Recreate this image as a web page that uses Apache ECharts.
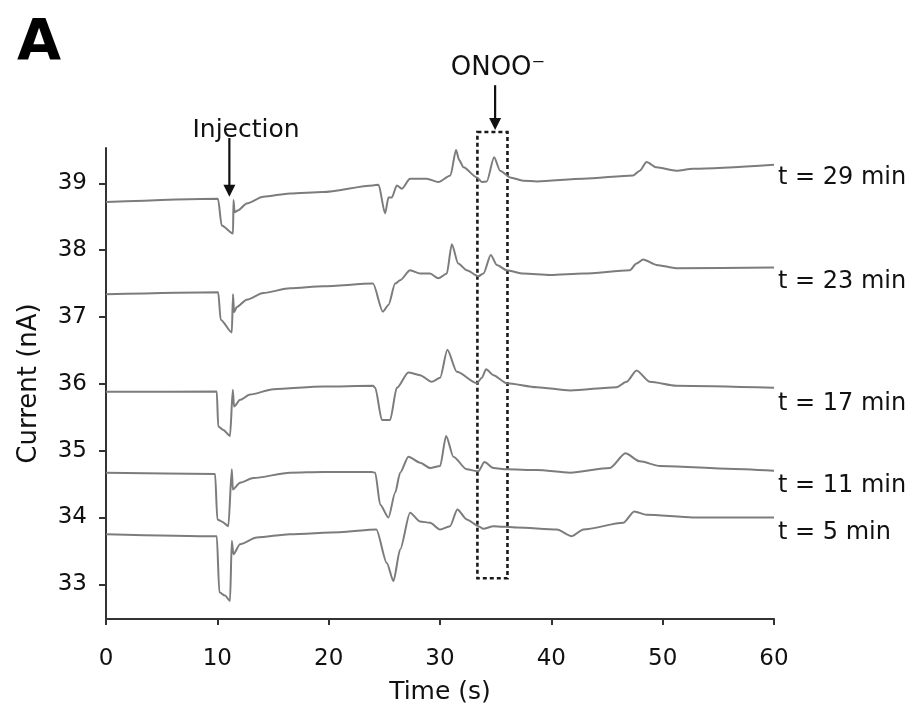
<!DOCTYPE html>
<html>
<head>
<meta charset="utf-8">
<script src="https://cdn.jsdelivr.net/npm/echarts@6/dist/echarts.min.js"></script>
<style>html,body{margin:0;padding:0;background:#fff;}#c{width:914px;height:717px;}</style>
</head>
<body>
<div id="c"></div>
<script>
// ---- data (time s, current nA) ----
const trace29 = [[0,38.72],[10.06,38.77],[10.39,38.37],[11.41,38.25],[11.45,38.75],[11.55,38.57],[11.89,38.6],[12.64,38.7],[14.13,38.8],[16.52,38.85],[19.5,38.87],[23.98,38.97],[24.48,38.98],[25.07,38.55],[25.37,38.79],[25.67,38.79],[26.12,38.97],[26.57,38.92],[27.31,39.07],[28.81,39.07],[29.85,39.02],[30.94,39.12],[31.44,39.5],[31.72,39.35],[32.11,39.24],[33.31,39.09],[33.76,39.02],[34.2,39.03],[34.86,39.39],[35.4,39.19],[36.3,39.09],[37.47,39.04],[38.7,39.03],[42.88,39.07],[47.35,39.12],[47.95,39.19],[48.55,39.32],[49.44,39.24],[51.23,39.19],[52.72,39.22],[60,39.28]];
const trace23 = [[0,37.34],[10.08,37.37],[10.3,36.96],[11.3,36.77],[11.41,37.34],[11.5,37.07],[11.75,37.15],[12.64,37.26],[14.13,37.36],[16.52,37.43],[19.5,37.46],[23.98,37.5],[24.87,37.08],[25.37,37.18],[25.97,37.5],[26.42,37.55],[27.31,37.7],[28.21,37.65],[29.11,37.65],[29.85,37.58],[30.61,37.65],[31.06,38.09],[31.64,37.8],[32.4,37.7],[33.45,37.61],[33.9,37.65],[34.56,37.93],[35.1,37.78],[36.0,37.7],[37.5,37.65],[39.89,37.63],[42.88,37.65],[47.05,37.7],[47.65,37.8],[48.25,37.86],[49.44,37.78],[51.23,37.73],[60,37.74]];
const trace17 = [[0,35.88],[9.95,35.885],[10.08,35.36],[10.54,35.31],[11.14,35.22],[11.39,35.91],[11.5,35.66],[12.04,35.76],[12.94,35.84],[15.03,35.92],[19.5,35.96],[23.98,35.97],[24.18,35.94],[24.78,35.46],[25.52,35.46],[26.12,35.94],[27.16,36.17],[28.21,36.13],[29.25,36.03],[30.01,36.09],[30.66,36.51],[31.51,36.18],[33.31,36.01],[33.76,36.09],[34.14,36.22],[34.8,36.13],[36.0,36.01],[38.7,35.95],[41.68,35.9],[45.86,35.95],[46.76,36.03],[47.65,36.2],[48.85,36.03],[51.23,35.97],[60,35.94]];
const trace11 = [[0,34.67],[9.8,34.65],[10.0,33.97],[10.39,33.94],[10.99,33.87],[11.3,34.72],[11.39,34.42],[12.04,34.52],[13.24,34.59],[16.52,34.67],[19.5,34.68],[23.88,34.68],[24.18,34.67],[24.63,34.19],[25.37,34.0],[25.97,34.37],[26.42,34.67],[27.16,34.91],[28.21,34.82],[29.11,34.74],[30.01,34.77],[30.55,35.22],[31.2,34.91],[32.4,34.72],[33.45,34.69],[33.99,34.83],[34.8,34.74],[36.0,34.72],[38.7,34.71],[41.68,34.67],[45.26,34.74],[46.66,34.96],[47.95,34.84],[49.74,34.77],[55.8,34.73],[60,34.7]];
const trace5 = [[0,33.75],[9.95,33.72],[10.18,32.88],[10.69,32.83],[11.14,32.75],[11.3,33.65],[11.44,33.45],[12.04,33.6],[13.54,33.7],[16.52,33.75],[20.99,33.78],[24.28,33.82],[25.22,33.32],[25.82,33.05],[26.42,33.52],[27.31,34.07],[28.21,33.94],[29.11,33.92],[30.01,33.82],[30.9,33.87],[31.56,34.12],[32.4,33.97],[33.45,33.87],[33.9,33.83],[34.8,33.87],[36.91,33.85],[40.49,33.82],[41.84,33.72],[42.88,33.82],[46.46,33.92],[47.45,34.09],[48.55,34.04],[52.72,34.0],[60,34.0]];
const traceLabels = ['t = 29 min','t = 23 min','t = 17 min','t = 11 min','t = 5 min'];
const yTickValues = [33,34,35,36,37,38,39];
// annotations (data coordinates)
const injectionArrow = [[11.08,39.68],[11.08,38.8]];
const onooArrow = [[34.95,40.47],[34.95,39.8]];
const onooBox = [[33.36,39.77],[36.06,33.09]];

const FONT = '"DejaVu Sans", sans-serif';
const traces = [trace29, trace23, trace17, trace11, trace5];
const labelY = [178, 282, 404, 486, 533];

const chart = echarts.init(document.getElementById('c'), null, {renderer:'canvas'});
const series = traces.map((d) => ({
  type: 'line',
  data: d,
  showSymbol: false,
  clip: false,
  silent: true,
  smooth: 0.25,
  smoothMonotone: 'x',
  lineStyle: {color: '#7c7c7c', width: 2},
  z: 2
}));

const baseGraphics = [
  {type:'text', x:17, y:45, style:{text:'A', font:'bold 57px "DejaVu Sans", sans-serif', fill:'#000', verticalAlign:'middle'}},
  {type:'text', x:246, y:130, style:{text:'Injection', font:'25px '+FONT, fill:'#111', align:'center', verticalAlign:'middle'}},
  {type:'text', x:498, y:68, style:{text:'ONOO\u207B', font:'26px '+FONT, fill:'#111', align:'center', verticalAlign:'middle'}}
];
traceLabels.forEach((t, i) => {
  baseGraphics.push({type:'text', x:778, y:labelY[i], style:{text:t, font:'24px '+FONT, fill:'#111', align:'left', verticalAlign:'middle'}});
});

chart.setOption({
  animation: false,
  backgroundColor: '#fff',
  grid: {left: 106, right: 140, top: 148, bottom: 98},
  xAxis: {
    type: 'value', min: 0, max: 60, interval: 10,
    name: 'Time (s)', nameLocation: 'middle', nameGap: 61,
    nameTextStyle: {fontFamily: FONT, fontSize: 25, color: '#111'},
    axisLine: {show: true, lineStyle: {color: '#333', width: 2}},
    axisTick: {show: true, inside: false, length: 6, lineStyle: {color: '#333', width: 2}},
    axisLabel: {fontFamily: FONT, fontSize: 23, color: '#111', margin: 29},
    splitLine: {show: false}
  },
  yAxis: {
    type: 'value', min: 32.48, max: 39.53,
    name: 'Current (nA)', nameLocation: 'middle', nameGap: 64, nameRotate: 90,
    nameTextStyle: {fontFamily: FONT, fontSize: 26, color: '#111'},
    axisLine: {show: true, lineStyle: {color: '#333', width: 2}},
    axisTick: {show: true, inside: false, length: 7, lineStyle: {color: '#333', width: 2}, customValues: yTickValues},
    axisLabel: {fontFamily: FONT, fontSize: 23, color: '#111', margin: 19, customValues: yTickValues},
    splitLine: {show: false}
  },
  graphic: baseGraphics,
  series: series
});

// annotations placed through the chart's own scales
function px(p) { return chart.convertToPixel({xAxisIndex: 0, yAxisIndex: 0}, p); }
function arrow(a) {
  const s = px(a[0]), e = px(a[1]);
  const head = 12, half = 6;
  return [
    {type:'line', shape:{x1:s[0], y1:s[1], x2:e[0], y2:e[1]-head+1}, style:{stroke:'#111', lineWidth:2.2}},
    {type:'polygon', shape:{points:[[e[0]-half, e[1]-head],[e[0]+half, e[1]-head],[e[0], e[1]]]}, style:{fill:'#111'}}
  ];
}
const b0 = px(onooBox[0]), b1 = px(onooBox[1]);
const extra = [].concat(
  arrow(injectionArrow),
  arrow(onooArrow),
  [{type:'rect', shape:{x:b0[0], y:b0[1], width:b1[0]-b0[0], height:b1[1]-b0[1]},
    style:{fill:'none', stroke:'#1a1a1a', lineWidth:2.6, lineDash:[4,3]}}]
);
chart.setOption({graphic: baseGraphics.concat(extra)});
</script>
</body>
</html>
